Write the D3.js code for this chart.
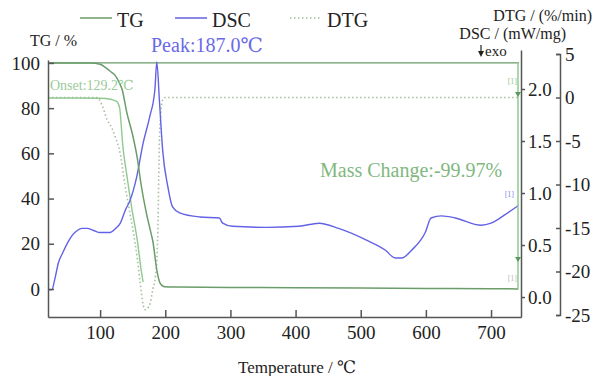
<!doctype html>
<html>
<head>
<meta charset="UTF-8">
<title>TG-DSC</title>
<script src="https://d3js.org/d3.v7.min.js"></script>
<style>
  body { margin: 0; background: #fff; }
  svg text { font-family: "Liberation Serif", Tinos, "Times New Roman", "DejaVu Serif", serif; }
</style>
</head>
<body>
<svg id="chart" width="595" height="376"></svg>
<script>
// temperature / TG (%)
var tgT = [20, 85, 100, 108, 116, 123, 129, 134, 141, 150, 157, 163, 170, 177, 181, 187, 192, 199, 220, 300, 400, 500, 600, 700, 742];
var tgV = [100, 100, 99.4, 98, 96.2, 94.5, 91.5, 88, 78, 68, 58, 46, 35, 26, 21, 8.4, 2.6, 1.0, 0.85, 0.7, 0.55, 0.4, 0.25, 0.1, 0.03];

// onset construction line (TG)
var onsetT = [20, 100, 118, 126, 130, 132, 134, 141, 149, 157, 163, 166];
var onsetV = [84.5, 84.4, 83.8, 82.8, 80, 74, 66, 50.4, 35, 21.7, 8.4, 3];

// DSC (mW/mg)
var dscT = [20, 26, 30, 36, 43, 50, 58, 65, 72, 80, 90, 100, 115, 124, 131, 139, 146, 156, 166, 176, 184, 187, 191, 196, 204, 211, 222, 253, 283, 288, 303, 355, 405, 436, 466, 508, 538, 553, 563, 578, 599, 608, 624, 645, 685, 700, 721, 742];
var dscV = [0.07, 0.07, 0.16, 0.33, 0.43, 0.52, 0.6, 0.64, 0.66, 0.66, 0.64, 0.62, 0.62, 0.66, 0.71, 0.84, 0.93, 1.15, 1.48, 1.73, 1.99, 2.26, 1.89, 1.41, 1.06, 0.87, 0.81, 0.77, 0.76, 0.71, 0.68, 0.67, 0.68, 0.71, 0.66, 0.55, 0.45, 0.375, 0.375, 0.45, 0.62, 0.76, 0.78, 0.76, 0.69, 0.71, 0.79, 0.88];

// DTG (%/min)
var dtgT = [20, 95, 103, 111, 118, 123, 131, 138, 145, 151, 157, 161, 166, 169, 173, 177, 181, 185, 187.5, 189, 190, 191, 193, 196, 200, 400, 600, 742];
var dtgV = [0, 0, -0.9, -2.6, -3.5, -4.5, -6.5, -10, -13, -15.5, -18.5, -21, -23.8, -24.4, -24.2, -23.6, -22, -20.5, -18, -14, -9, -5, -2, -0.3, 0, 0, 0, 0];

var xTicks = [100, 200, 300, 400, 500, 600, 700];
var tgTicks = [0, 20, 40, 60, 80, 100];
var dscTicks = [0, 0.5, 1.0, 1.5, 2.0];
var dtgTicks = [-25, -20, -15, -10, -5, 0, 5];

var green = "#6a9d6a", lightGreen = "#90c890", blue = "#6262e6", dotted = "#a8bea0", axisCol = "#555";
var serif = '"Liberation Serif", Tinos, "Times New Roman", "DejaVu Serif", serif';

var svg = d3.select("#chart");

var x = d3.scaleLinear().domain([20, 746]).range([48, 521]);
var yTG = d3.scaleLinear().domain([-12.4, 101.3]).range([317, 60]);
var yDSC = d3.scaleLinear().domain([-0.192, 2.375]).range([317, 50]);
var yDTG = d3.scaleLinear().domain([-25, 5]).range([315, 54]);

function zip(a, b) { return a.map(function (d, i) { return [d, b[i]]; }); }

// top reference line at 100 %
svg.append("line")
  .attr("x1", x(20)).attr("x2", x(746) - 2)
  .attr("y1", yTG(100)).attr("y2", yTG(100))
  .attr("stroke", green).attr("stroke-width", 1.3);

// DTG dotted
svg.append("path")
  .datum(zip(dtgT, dtgV))
  .attr("fill", "none").attr("stroke", dotted).attr("stroke-width", 1.6)
  .attr("stroke-dasharray", "1.5,2.5")
  .attr("d", d3.line().x(function (d) { return x(d[0]); }).y(function (d) { return yDTG(d[1]); }).curve(d3.curveMonotoneX));

// onset line
svg.append("path")
  .datum(zip(onsetT, onsetV))
  .attr("fill", "none").attr("stroke", lightGreen).attr("stroke-width", 1.4)
  .attr("d", d3.line().x(function (d) { return x(d[0]); }).y(function (d) { return yTG(d[1]); }).curve(d3.curveMonotoneX));

// DSC
svg.append("path")
  .datum(zip(dscT, dscV))
  .attr("fill", "none").attr("stroke", blue).attr("stroke-width", 1.4)
  .attr("d", d3.line().x(function (d) { return x(d[0]); }).y(function (d) { return yDSC(d[1]); }).curve(d3.curveMonotoneX));

// TG
svg.append("path")
  .datum(zip(tgT, tgV))
  .attr("fill", "none").attr("stroke", green).attr("stroke-width", 1.5)
  .attr("d", d3.line().x(function (d) { return x(d[0]); }).y(function (d) { return yTG(d[1]); }).curve(d3.curveMonotoneX));

// mass change bracket
var mx = x(746) - 3;
svg.append("line")
  .attr("x1", mx).attr("x2", mx)
  .attr("y1", yTG(100)).attr("y2", yTG(0.03))
  .attr("stroke", lightGreen).attr("stroke-width", 1.5);
[97, 262].forEach(function (yy) {
  svg.append("path")
    .attr("d", "M" + (mx - 3) + "," + (yy - 5) + "L" + (mx + 3) + "," + (yy - 5) + "L" + mx + "," + yy + "Z")
    .attr("fill", "#5a9a5a");
});
svg.append("text").attr("x", mx - 1).attr("y", 84).attr("text-anchor", "end")
  .attr("font-size", 8).attr("fill", lightGreen).text("[1]");
svg.append("text").attr("x", mx - 4).attr("y", 197).attr("text-anchor", "end")
  .attr("font-size", 8).attr("fill", "#8888ee").text("[1]");
svg.append("text").attr("x", mx - 1).attr("y", 281).attr("text-anchor", "end")
  .attr("font-size", 8).attr("fill", "#bbb").text("[1]");

// axes
function styleAxis(g) {
  g.attr("font-family", serif);
  g.selectAll("path, line").attr("stroke", axisCol).attr("stroke-width", 1.5);
  g.selectAll("text").attr("font-size", 19).attr("fill", "#222");
}

svg.append("g").attr("transform", "translate(48,0)")
  .call(d3.axisLeft(yTG).tickValues(tgTicks).tickSizeInner(-6).tickSizeOuter(0).tickPadding(8))
  .call(styleAxis);

svg.append("g").attr("transform", "translate(0,317)")
  .call(d3.axisBottom(x).tickValues(xTicks).tickSizeInner(-7).tickSizeOuter(0).tickPadding(9))
  .call(styleAxis);

svg.append("g").attr("transform", "translate(521,0)")
  .call(d3.axisRight(yDSC).tickValues(dscTicks).tickFormat(d3.format(".1f")).tickSizeInner(4).tickSizeOuter(0).tickPadding(3))
  .call(styleAxis);

svg.append("g").attr("transform", "translate(560,0)")
  .call(d3.axisRight(yDTG).tickValues(dtgTicks).tickFormat(function (d) { return String(d); })
    .tickSizeInner(-4).tickSizeOuter(-4).tickPadding(5))
  .call(styleAxis);

// titles
svg.append("text").attr("x", 30).attr("y", 46).attr("font-size", 16).attr("fill", "#222").text("TG / %");
svg.append("text").attr("x", 297).attr("y", 373).attr("text-anchor", "middle").attr("font-size", 17).attr("fill", "#222").text("Temperature / ℃");
svg.append("text").attr("x", 592).attr("y", 21).attr("text-anchor", "end").attr("font-size", 16).attr("fill", "#222").text("DTG / (%/min)");
svg.append("text").attr("x", 566).attr("y", 39).attr("text-anchor", "end").attr("font-size", 16).attr("fill", "#222").text("DSC / (mW/mg)");
svg.append("text").attr("x", 485).attr("y", 56).attr("font-size", 15).attr("fill", "#222").text("exo");
svg.append("line").attr("x1", 481).attr("x2", 481).attr("y1", 45).attr("y2", 52).attr("stroke", "#222").attr("stroke-width", 1.2);
svg.append("path").attr("d", "M478,51L484,51L481,57Z").attr("fill", "#222");

// annotations
svg.append("text").attr("x", 151).attr("y", 52).attr("font-size", 20).attr("fill", "#6a6ae8").text("Peak:187.0℃");
svg.append("text").attr("x", 50).attr("y", 90).attr("font-size", 14).attr("fill", "#9acb9a").text("Onset:129.2℃");
svg.append("text").attr("x", 320).attr("y", 177).attr("font-size", 20).attr("fill", "#80b880").text("Mass Change:-99.97%");

// legend
var legend = [
  { name: "TG", x: 80, color: green, dash: null },
  { name: "DSC", x: 175, color: blue, dash: null },
  { name: "DTG", x: 290, color: dotted, dash: "1.5,2.5" }
];
legend.forEach(function (d) {
  svg.append("line").attr("x1", d.x).attr("x2", d.x + 32).attr("y1", 18).attr("y2", 18)
    .attr("stroke", d.color).attr("stroke-width", 1.5).attr("stroke-dasharray", d.dash);
  svg.append("text").attr("x", d.x + 37).attr("y", 27).attr("font-size", 20).attr("fill", "#222").text(d.name);
});
</script>
</body>
</html>
